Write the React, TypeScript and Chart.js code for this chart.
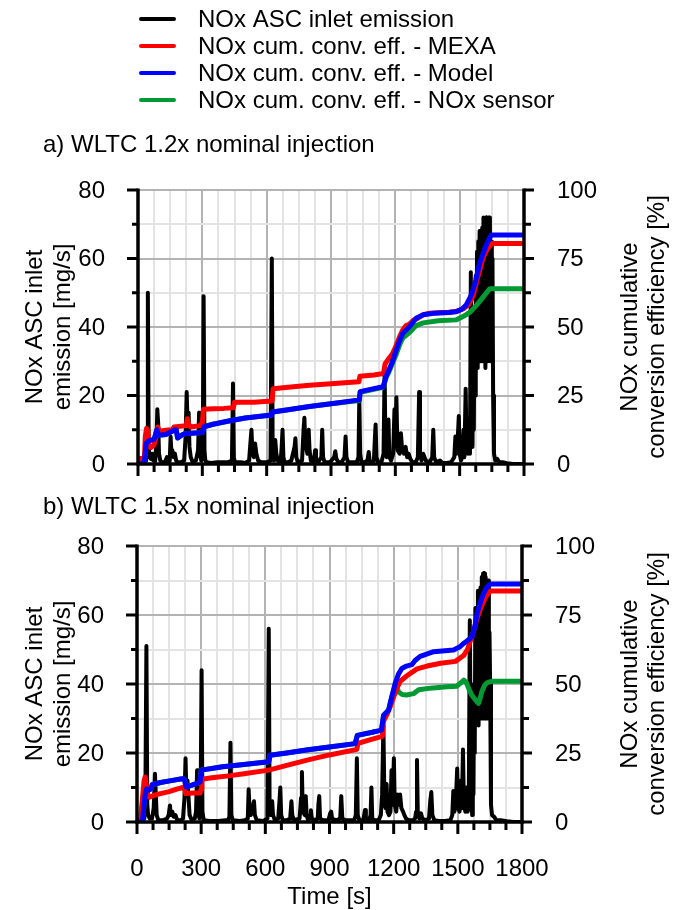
import React, { useEffect, useRef } from 'react';
import { Chart, registerables } from 'chart.js';
Chart.register(...registerables);

const FONT_FAMILY = '"Liberation Sans", Arial, Helvetica, sans-serif';
const FS = 24;

const legendLabels = [
  'NOx ASC inlet emission',
  'NOx cum. conv. eff. - MEXA',
  'NOx cum. conv. eff. - Model',
  'NOx cum. conv. eff. - NOx sensor',
];
const seriesColors = ['#000000', '#ff0000', '#0000ff', '#009933'];

const panelTitles = ['a) WLTC 1.2x nominal injection', 'b) WLTC 1.5x nominal injection'];
const xTickLabels = [0, 300, 600, 900, 1200, 1500, 1800];
const leftTickLabels = [0, 20, 40, 60, 80];
const rightTickLabels = [0, 25, 50, 75, 100];
const xTitle = 'Time [s]';
const leftTitle = ['NOx ASC inlet', 'emission [mg/s]'];
const rightTitle = ['NOx cumulative', 'conversion efficiency [%]'];

// ---------- Panel a) : [time s, value] ----------
const emissionA: [number, number][] = [
  [0, 0], [10, 0.3], [20, 0.5], [38, 1], [42, 8], [46, 50], [50, 5], [54, 2], [60, 1.5], [66, 3], [72, 1], [80, 0.8],
  [86, 6], [90, 16], [94, 12], [98, 3], [104, 1], [112, 0.5], [125, 0.5], [135, 2], [140, 0.5], [148, 1], [152, 8],
  [156, 3], [160, 4], [166, 2], [172, 3], [178, 1], [185, 0.5], [200, 0.5], [215, 1], [222, 8], [227, 21], [231, 12],
  [236, 15], [240, 5], [246, 2], [255, 0.5], [270, 1], [280, 4], [285, 15], [289, 3], [295, 1], [302, 3], [306, 49],
  [310, 4], [314, 1], [320, 0.5], [340, 0.3], [370, 0.5], [400, 0.5], [420, 0.5], [438, 1], [443, 23.5], [447, 2],
  [452, 0.5], [480, 0.5], [500, 0.3], [518, 1], [524, 6], [529, 10], [534, 3], [540, 2], [546, 6], [552, 3], [560, 1],
  [575, 0.5], [600, 0.5], [618, 1], [624, 60], [628, 3], [634, 1], [640, 7], [645, 3], [652, 1], [665, 0.5], [670, 5],
  [674, 10], [678, 2], [684, 0.5], [700, 0.5], [715, 1], [730, 5], [734, 7.5], [738, 2], [745, 0.5], [765, 1], [772, 10],
  [776, 13.5], [780, 6], [790, 3], [796, 10], [800, 4], [806, 1], [815, 0.5], [822, 2], [826, 4], [830, 1], [840, 0.5],
  [855, 2], [859, 10], [863, 2], [870, 0.5], [895, 0.5], [915, 2], [920, 3.7], [925, 1.5], [935, 0.5], [950, 0.5],
  [963, 2], [968, 8], [972, 2], [980, 0.5], [1000, 0.5], [1020, 0.5], [1028, 2], [1032, 19], [1036, 3], [1042, 0.5],
  [1055, 0.5], [1070, 1], [1076, 3.5], [1080, 1], [1090, 0.5], [1100, 1], [1105, 8], [1108, 11.5], [1112, 2], [1120, 0.5],
  [1135, 0.5], [1145, 3], [1150, 27], [1154, 4], [1160, 2], [1164, 10], [1168, 13], [1172, 2], [1180, 1], [1190, 3],
  [1196, 16], [1200, 6], [1205, 19.5], [1210, 4], [1220, 3], [1226, 9], [1232, 4], [1240, 3], [1248, 5], [1255, 2],
  [1262, 3], [1270, 1.5], [1280, 0.5], [1295, 0.5], [1305, 2], [1311, 21], [1315, 3], [1322, 1], [1330, 3], [1336, 2],
  [1342, 1], [1360, 0.5], [1372, 2], [1377, 10], [1381, 2], [1390, 0.5], [1408, 1], [1420, 0.3], [1440, 0.3], [1460, 0.5],
  [1475, 2], [1480, 8], [1485, 3], [1490, 6], [1496, 14], [1500, 3], [1506, 1], [1512, 2], [1518, 10], [1522, 2],
  [1528, 22], [1532, 5], [1538, 3], [1544, 12], [1548, 3], [1552, 56], [1556, 15], [1560, 5], [1563, 40], [1566, 10],
  [1569, 45], [1572, 20], [1575, 55], [1578, 30], [1581, 62], [1584, 28], [1587, 65], [1590, 35], [1593, 68], [1596, 30],
  [1599, 66], [1602, 40], [1605, 69], [1608, 30], [1611, 72], [1614, 45], [1617, 70], [1620, 28], [1623, 72], [1626, 40],
  [1629, 71], [1632, 30], [1635, 72], [1638, 50], [1641, 72], [1644, 30], [1647, 65], [1650, 35], [1653, 60], [1656, 20],
  [1660, 3], [1666, 1], [1675, 1.5], [1685, 0.5], [1700, 0.5], [1720, 0.2], [1750, 0], [1800, 0],
];
const mexaA: [number, number][] = [
  [0, 2], [30, 2], [34, 10], [40, 13], [46, 12], [50, 6.5], [60, 6], [75, 7], [85, 10.5], [92, 13.5], [100, 12],
  [130, 12.3], [160, 12.5], [168, 13.5], [225, 14], [230, 16.5], [236, 14.5], [245, 13.5], [290, 14], [300, 15], [305, 20],
  [350, 20.2], [400, 20.3], [445, 20.5], [450, 22.5], [540, 22.5], [625, 23], [630, 27.5], [700, 28], [800, 28.7],
  [900, 29.3], [1030, 30], [1035, 32], [1100, 32.5], [1145, 33], [1152, 36.5], [1165, 38], [1185, 40], [1200, 42.5],
  [1220, 46.5], [1235, 49], [1250, 50.5], [1265, 51], [1285, 52.5], [1300, 53], [1330, 54.5], [1360, 55], [1400, 55.2],
  [1450, 55.4], [1490, 55.8], [1520, 56.8], [1540, 58], [1555, 60], [1565, 62], [1580, 67], [1595, 71], [1610, 75.5],
  [1630, 78.5], [1650, 80.5], [1800, 80.5],
];
const modelA: [number, number][] = [
  [0, 0], [20, 0], [30, 1], [38, 7.5], [50, 8.5], [75, 9], [88, 12.5], [95, 10.5], [130, 10.8], [170, 12.4], [178, 12.5],
  [185, 9.5], [205, 10.6], [215, 11], [300, 11.5], [308, 13.6], [350, 14.5], [429, 15.8], [500, 16.8], [623, 17.9],
  [628, 19], [700, 19.8], [800, 21], [900, 22], [1032, 23.4], [1036, 26.4], [1100, 27.5], [1143, 28.2], [1157, 32],
  [1170, 34.3], [1185, 37], [1204, 41.6], [1220, 45], [1235, 47.7], [1266, 50.1], [1297, 53.2], [1330, 54.5], [1380, 55],
  [1450, 55.3], [1483, 55.6], [1510, 56.5], [1530, 58], [1550, 61], [1562, 63.5], [1575, 67], [1593, 73.2], [1610, 77],
  [1624, 79.9], [1640, 82.5], [1649, 83.6], [1800, 83.6],
];
const sensorA: [number, number][] = [
  [0, 0], [20, 0], [30, 1], [38, 7.5], [50, 8.5], [75, 9], [88, 12.5], [95, 10.5], [130, 10.8], [170, 12.4], [178, 12.5],
  [185, 9.5], [205, 10.6], [215, 11], [300, 11.5], [308, 13.6], [350, 14.5], [429, 15.8], [500, 16.8], [623, 17.9],
  [628, 19], [700, 19.8], [800, 21], [900, 22], [1032, 23.2], [1036, 26.2], [1100, 27.3], [1143, 28], [1157, 31.5],
  [1170, 33.5], [1185, 36.5], [1204, 40], [1220, 43.5], [1235, 46], [1266, 48], [1297, 50.5], [1330, 51.5], [1400, 52.3],
  [1483, 52.6], [1520, 54], [1550, 55.5], [1579, 58], [1600, 60], [1620, 62], [1641, 64], [1800, 64],
];

// ---------- Panel b) ----------
const emissionB: [number, number][] = [
  [0, 0], [20, 0.3], [34, 1], [39, 6], [44, 51], [48, 5], [52, 2], [60, 1], [70, 1], [78, 4], [84, 14], [88, 8], [92, 2],
  [100, 0.5], [120, 0.5], [140, 1], [148, 2], [154, 4.8], [158, 2], [165, 3], [172, 1.5], [180, 2], [188, 0.5], [205, 0.5],
  [215, 1], [222, 7], [227, 18.5], [231, 8], [236, 12], [241, 7], [246, 2], [256, 0.5], [270, 1], [276, 3], [281, 15],
  [285, 3], [292, 1], [297, 3], [302, 44], [306, 3], [312, 0.5], [340, 0.3], [380, 0.3], [415, 0.5], [425, 0.5],
  [432, 1.5], [437, 23], [441, 2], [448, 0.5], [480, 0.3], [505, 0.5], [518, 1], [522, 9.5], [526, 4], [532, 2], [547, 6],
  [551, 2], [560, 0.5], [590, 0.3], [610, 1], [616, 56], [620, 4], [626, 2], [632, 6], [636, 2], [645, 0.5], [660, 1],
  [666, 6], [670, 10], [674, 2], [682, 0.5], [700, 0.5], [716, 1], [722, 6], [726, 2], [734, 0.5], [760, 1], [767, 7],
  [771, 14.5], [775, 3], [785, 2], [789, 7.5], [793, 2], [800, 0.5], [810, 2], [813, 3.4], [817, 1], [830, 0.5], [845, 1],
  [848, 5], [852, 7.5], [856, 1], [870, 0.5], [895, 0.5], [903, 2.5], [908, 3], [912, 1], [930, 0.5], [950, 1], [955, 7.5],
  [960, 1], [975, 0.5], [1000, 0.5], [1015, 0.5], [1023, 2], [1028, 18.5], [1032, 2], [1040, 0.5], [1058, 0.5], [1062, 2],
  [1066, 3.5], [1070, 1], [1085, 0.5], [1092, 2], [1096, 10], [1100, 1], [1110, 0.5], [1130, 0.5], [1140, 2], [1146, 8],
  [1152, 28], [1157, 5], [1163, 4], [1167, 11], [1171, 3], [1178, 2], [1185, 3], [1190, 15], [1195, 5], [1201, 18.5],
  [1205, 5], [1212, 3], [1218, 8], [1224, 5], [1230, 8], [1236, 4], [1244, 3], [1250, 2], [1258, 1], [1270, 0.5],
  [1290, 0.5], [1300, 1], [1305, 3], [1309, 18], [1313, 2], [1320, 1], [1328, 2.5], [1334, 1], [1350, 0.5], [1365, 1],
  [1371, 6], [1376, 8.7], [1381, 2], [1390, 0.5], [1410, 0.3], [1440, 0.3], [1465, 0.5], [1474, 2], [1479, 9], [1484, 3],
  [1490, 5], [1497, 15.5], [1502, 4], [1508, 3], [1514, 12], [1519, 4], [1524, 21], [1528, 6], [1535, 3], [1541, 10],
  [1546, 3], [1551, 4], [1556, 58.5], [1562, 10], [1567, 2], [1570, 25], [1573, 8], [1576, 40], [1579, 20], [1582, 62],
  [1585, 30], [1588, 60], [1591, 35], [1594, 67], [1597, 28], [1600, 66], [1603, 40], [1606, 68], [1609, 30], [1612, 71],
  [1615, 45], [1618, 72], [1621, 30], [1624, 72], [1627, 40], [1630, 71], [1633, 30], [1636, 70], [1639, 45], [1642, 70],
  [1645, 30], [1648, 55], [1651, 40], [1655, 5], [1660, 2], [1670, 1.5], [1680, 0.5], [1700, 0.5], [1730, 0.2], [1760, 0],
  [1800, 0],
];
const mexaB: [number, number][] = [
  [0, 0], [15, 0.5], [25, 8], [33, 15], [38, 16.3], [44, 13], [50, 10], [58, 9], [80, 9.7], [110, 10.3], [150, 11],
  [190, 12], [215, 12.5], [222, 12.2], [228, 10.3], [260, 10.5], [295, 10.5], [300, 12], [303, 15.5], [350, 16],
  [437, 16.8], [500, 17.5], [616, 18.8], [700, 20.5], [800, 22.5], [900, 24.3], [1028, 26.3], [1033, 28.5], [1100, 30],
  [1147, 31], [1152, 36.5], [1169, 39], [1185, 42], [1200, 45.3], [1215, 48.5], [1231, 51], [1262, 53], [1309, 55.5],
  [1356, 56.5], [1420, 57.5], [1489, 58.2], [1527, 60.3], [1545, 62.5], [1558, 65.5], [1575, 69.5], [1590, 74],
  [1610, 78], [1630, 81.5], [1652, 83.7], [1800, 83.7],
];
const modelB: [number, number][] = [
  [0, 0], [25, 0], [30, 4], [38, 10], [45, 12], [55, 11.5], [65, 12], [71, 13.5], [110, 14.3], [160, 15], [211, 15.7],
  [222, 15.5], [230, 12.7], [250, 13.2], [280, 14], [295, 14.5], [300, 18.8], [400, 20], [500, 20.8], [616, 21.8],
  [622, 24.2], [700, 25], [800, 26.2], [900, 27.2], [1020, 28.4], [1030, 31.4], [1100, 32.5], [1143, 33.3], [1153, 38.7],
  [1176, 40.5], [1190, 45], [1207, 50.2], [1222, 53.5], [1238, 55.6], [1260, 56.5], [1285, 57], [1300, 58.5], [1324, 60],
  [1387, 61.7], [1480, 62.3], [1510, 63.5], [1527, 64.7], [1550, 66], [1566, 67.2], [1580, 71], [1590, 75.6], [1605, 79.5],
  [1620, 82.8], [1635, 85], [1652, 86.2], [1800, 86.2],
];
const sensorB: [number, number][] = [
  [0, 0], [25, 0], [30, 4], [38, 10], [45, 12], [55, 11.5], [65, 12], [71, 13.5], [110, 14.3], [160, 15], [211, 15.7],
  [222, 15.5], [230, 12.7], [250, 13.2], [280, 14], [295, 14.5], [300, 18.8], [400, 20], [500, 20.8], [616, 21.8],
  [622, 24.2], [700, 25], [800, 26.2], [900, 27.2], [1020, 28.4], [1030, 31.4], [1100, 32.5], [1143, 33.3], [1153, 38.7],
  [1176, 40.5], [1190, 45], [1207, 49.5], [1215, 48.5], [1225, 47], [1240, 46.2], [1260, 46], [1293, 46.5], [1317, 47.9],
  [1371, 48.5], [1450, 49], [1496, 49.2], [1515, 50.5], [1528, 51.4], [1540, 50.5], [1550, 48.5], [1565, 46], [1580, 44.5],
  [1590, 43.5], [1597, 43], [1605, 45], [1612, 47.2], [1625, 49.5], [1636, 50.4], [1660, 51], [1800, 51],
];

const toXY = (arr: [number, number][]) => arr.map(([x, y]) => ({ x, y }));

type PanelCfg = {
  title: string;
  canvasTop: number;
  canvasH: number;
  areaTop: number;
  areaBottom: number;
  leftW: number;
  rightW: number;
  showXLabels: boolean;
  showLegend: boolean;
  titleY: number;
  series: [number, number][][];
};

const panels: PanelCfg[] = [
  {
    title: panelTitles[0], canvasTop: 0, canvasH: 490, areaTop: 190, areaBottom: 464, leftW: 138, rightW: 149,
    showXLabels: false, showLegend: true, titleY: 145, series: [emissionA, mexaA, modelA, sensorA],
  },
  {
    title: panelTitles[1], canvasTop: 490, canvasH: 420, areaTop: 56, areaBottom: 332, leftW: 137, rightW: 151,
    showXLabels: true, showLegend: false, titleY: 17, series: [emissionB, mexaB, modelB, sensorB],
  },
];

function overlayPlugin(cfg: PanelCfg) {
  return {
    id: 'overlay',
    afterDatasetsDraw(chart: any) {
      const ctx: CanvasRenderingContext2D = chart.ctx;
      const ca = chart.chartArea;
      const xs = chart.scales.x;
      const ys = chart.scales.y;
      const yr = chart.scales.y1;
      const L = (x1: number, y1: number, x2: number, y2: number) => {
        ctx.beginPath();
        ctx.moveTo(x1, y1);
        ctx.lineTo(x2, y2);
        ctx.stroke();
      };
      ctx.save();
      ctx.strokeStyle = '#000';
      ctx.fillStyle = '#000';
      ctx.lineCap = 'butt';
      ctx.lineWidth = 3;
      for (let v = 0; v <= 80; v += 10) {
        const y = ys.getPixelForValue(v);
        L(ca.left - (v % 20 === 0 ? 11 : 6), y, ca.left, y);
      }
      for (let v = 0; v <= 100; v += 12.5) {
        const y = yr.getPixelForValue(v);
        L(ca.right, y, ca.right + (v % 25 === 0 ? 10 : 7), y);
      }
      for (let t = 0; t <= 1800; t += 75) {
        const x = xs.getPixelForValue(t);
        L(x, ca.bottom, x, ca.bottom + (t % 300 === 0 ? 12 : 8));
      }
      ctx.lineWidth = 3.5;
      L(ca.left, ca.top - 1.5, ca.left, ca.bottom + 1.5);
      L(ca.right, ca.top - 1.5, ca.right, ca.bottom + 1.5);
      L(ca.left - 1.5, ca.bottom, ca.right + 1.5, ca.bottom);

      ctx.font = `${FS}px ${FONT_FAMILY}`;
      ctx.textBaseline = 'middle';
      ctx.textAlign = 'right';
      leftTickLabels.forEach((v) => ctx.fillText(String(v), ca.left - 33, ys.getPixelForValue(v) + 1));
      ctx.textAlign = 'left';
      rightTickLabels.forEach((v) => ctx.fillText(String(v), ca.right + 33, yr.getPixelForValue(v) + 1));
      if (cfg.showXLabels) {
        ctx.textAlign = 'center';
        xTickLabels.forEach((v) => ctx.fillText(String(v), xs.getPixelForValue(v), ca.bottom + 47));
        ctx.fillText(xTitle, (ca.left + ca.right) / 2, ca.bottom + 75);
      }
      const cy = (ca.top + ca.bottom) / 2;
      const vtext = (txt: string, x: number) => {
        ctx.save();
        ctx.translate(x, cy);
        ctx.rotate(-Math.PI / 2);
        ctx.textAlign = 'center';
        ctx.fillText(txt, 0, 0);
        ctx.restore();
      };
      vtext(leftTitle[0], 35);
      vtext(leftTitle[1], 63);
      vtext(rightTitle[0], 630);
      vtext(rightTitle[1], 657);

      ctx.textAlign = 'left';
      ctx.fillText(cfg.title, 43, cfg.titleY);

      if (cfg.showLegend) {
        legendLabels.forEach((lab, i) => {
          const y = 19 + i * 27;
          ctx.strokeStyle = seriesColors[i];
          ctx.lineWidth = 4;
          ctx.lineCap = 'round';
          L(141, y, 174, y);
          ctx.fillStyle = '#000';
          ctx.fillText(lab, 198, y + 1);
        });
      }
      ctx.restore();
    },
  };
}

function Panel({ cfg }: { cfg: PanelCfg }) {
  const ref = useRef<HTMLCanvasElement | null>(null);
  useEffect(() => {
    if (!ref.current) return;
    const mk = (i: number, w: number, axis: string, order: number) => ({
      data: toXY(cfg.series[i]),
      borderColor: seriesColors[i],
      backgroundColor: seriesColors[i],
      borderWidth: w,
      pointRadius: 0,
      yAxisID: axis,
      order,
      tension: 0,
      fill: false,
      borderJoinStyle: 'round' as const,
      borderCapStyle: 'round' as const,
    });
    const chart = new Chart(ref.current, {
      type: 'line',
      data: {
        datasets: [
          mk(2, 5, 'y1', 1),
          mk(1, 5, 'y1', 2),
          mk(3, 5, 'y1', 3),
          mk(0, 4, 'y', 4),
        ],
      },
      options: {
        responsive: false,
        animation: false,
        events: [],
        devicePixelRatio: 1,
        layout: { padding: { top: cfg.areaTop, left: 0, right: 0, bottom: 0 } },
        plugins: { legend: { display: false }, tooltip: { enabled: false }, title: { display: false } },
        scales: {
          x: {
            type: 'linear',
            min: 0,
            max: 1800,
            ticks: { stepSize: 75, display: false, autoSkip: false, maxTicksLimit: 100 },
            grid: {
              color: (c: any) => (c.tick && c.tick.value % 300 === 0 ? '#b3b3b3' : '#e3e3e3'),
              lineWidth: 2,
              drawTicks: false,
            },
            border: { display: false },
            afterFit: (s: any) => { s.height = cfg.canvasH - cfg.areaBottom; },
          },
          y: {
            type: 'linear',
            position: 'left',
            min: 0,
            max: 80,
            ticks: { stepSize: 10, display: false, maxTicksLimit: 100 },
            grid: {
              color: (c: any) => (c.tick && c.tick.value % 20 === 0 ? '#b3b3b3' : '#e3e3e3'),
              lineWidth: 2,
              drawTicks: false,
            },
            border: { display: false },
            afterFit: (s: any) => { s.width = cfg.leftW; },
          },
          y1: {
            type: 'linear',
            position: 'right',
            min: 0,
            max: 100,
            ticks: { stepSize: 12.5, display: false, maxTicksLimit: 100 },
            grid: { display: false, drawTicks: false },
            border: { display: false },
            afterFit: (s: any) => { s.width = cfg.rightW; },
          },
        },
      } as any,
      plugins: [overlayPlugin(cfg)],
    });
    return () => chart.destroy();
  }, [cfg]);
  return (
    <canvas
      ref={ref}
      width={673}
      height={cfg.canvasH}
      style={{ position: 'absolute', left: 0, top: cfg.canvasTop, width: 673, height: cfg.canvasH, display: 'block' }}
    />
  );
}

export default function App() {
  return (
    <div style={{ position: 'absolute', left: 0, top: 0, width: 673, height: 910, background: '#fff' }}>
      {panels.map((p, i) => (
        <Panel key={i} cfg={p} />
      ))}
    </div>
  );
}
